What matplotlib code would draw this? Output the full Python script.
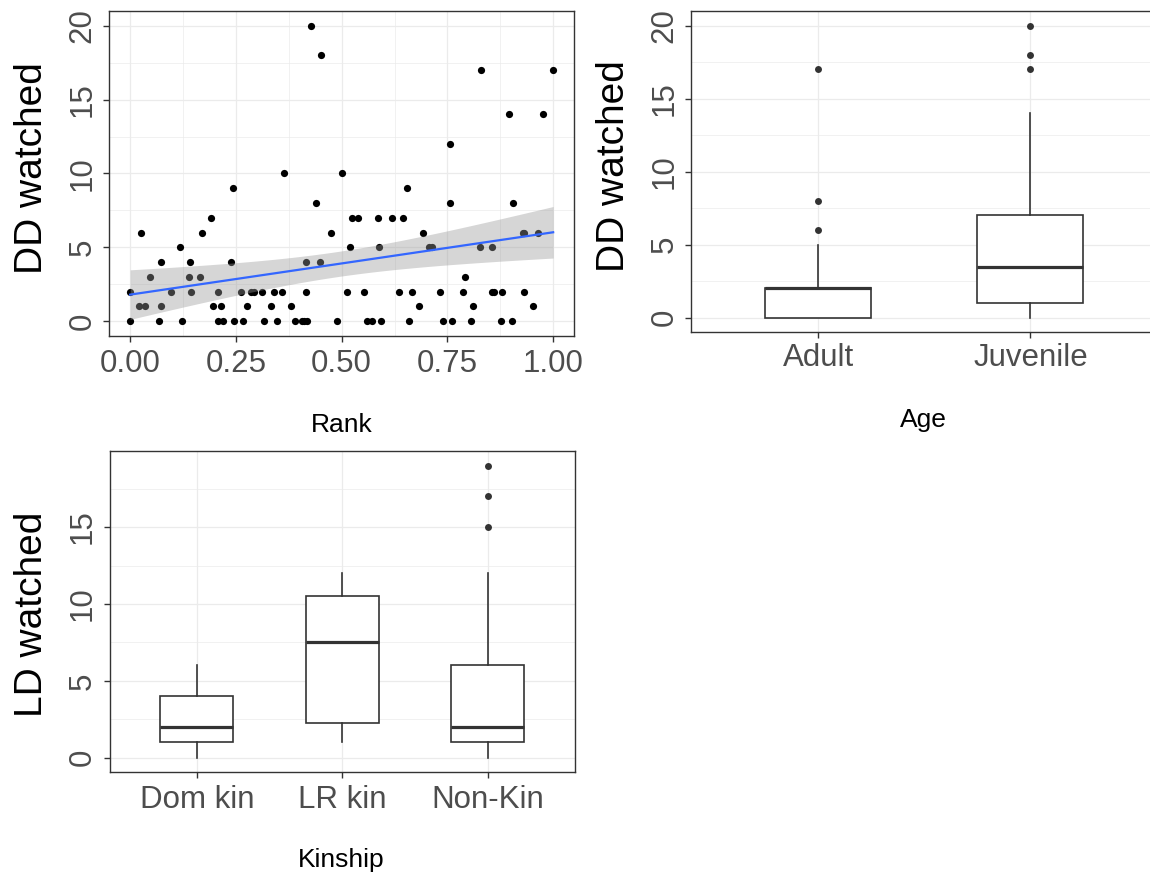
import numpy as np
import matplotlib
matplotlib.use('Agg')
import matplotlib.pyplot as plt

plt.rcParams['font.family'] = ['Liberation Sans', 'DejaVu Sans']

# scatter data: rank vs DD watched
rank = [0.427, 0.452, 0.364, 0.500, 0.830, 1.000, 0.896, 0.977, 0.757,
        0.000, 0.000, 0.025, 0.021, 0.035, 0.047, 0.072, 0.069, 0.072, 0.097,
        0.118, 0.122, 0.138, 0.141, 0.144, 0.166, 0.170, 0.192, 0.195, 0.207,
        0.207, 0.214, 0.220, 0.242, 0.239, 0.245, 0.261, 0.267, 0.276, 0.285,
        0.292, 0.311, 0.317, 0.333, 0.341, 0.346, 0.359, 0.380, 0.389, 0.406,
        0.411, 0.417, 0.415, 0.415, 0.440, 0.448, 0.474, 0.488,
        0.512, 0.519, 0.524, 0.538, 0.552, 0.559, 0.572, 0.585, 0.588, 0.593,
        0.619, 0.635, 0.644, 0.654, 0.660, 0.666, 0.682, 0.692, 0.707, 0.713,
        0.732, 0.739, 0.757, 0.761, 0.786, 0.791, 0.805, 0.811, 0.827, 0.856,
        0.856, 0.861, 0.877, 0.880, 0.902, 0.904, 0.928, 0.931, 0.930, 0.952,
        0.965]
dd_watched = [20, 18, 10, 10, 17, 17, 14, 14, 12,
              2, 0, 6, 1, 1, 3, 4, 0, 1, 2,
              5, 0, 3, 4, 2, 3, 6, 7, 1, 2,
              0, 1, 0, 9, 4, 0, 2, 0, 1, 2,
              2, 2, 0, 1, 2, 0, 2, 1, 0, 0,
              0, 0, 4, 2, 8, 4, 6, 0,
              2, 5, 7, 7, 2, 0, 0, 7, 5, 0,
              7, 2, 7, 9, 0, 2, 1, 6, 5, 5,
              2, 0, 8, 0, 2, 3, 0, 1, 5, 5,
              2, 2, 0, 2, 0, 8, 6, 6, 2, 1,
              6]

# box plot summaries: age
age_groups = ['Adult', 'Juvenile']
age_q1 = [0, 1]
age_med = [2, 3.5]
age_q3 = [2, 7]
age_lo = [0, 0]
age_hi = [5, 14]
age_out = [[6, 8, 17], [17, 18, 20]]

# box plot summaries: kinship
kin_groups = ['Dom kin', 'LR kin', 'Non-Kin']
kin_q1 = [1, 2.25, 1]
kin_med = [2, 7.5, 2]
kin_q3 = [4, 10.5, 6]
kin_lo = [0, 1, 0]
kin_hi = [6, 12, 12]
kin_out = [[], [], [15, 17, 19]]

W, H = 1150, 872
fig = plt.figure(figsize=(W / 100, H / 100), dpi=100)

DARK = '#333333'
TICKCOL = '#4D4D4D'


def px_axes(left, top, right, bottom):
    return fig.add_axes([left / W, 1 - bottom / H, (right - left) / W, (bottom - top) / H])


def style(ax, yticks, yminor, xpad=4.5):
    ax.set_yticks(yticks)
    ax.set_yticks(yminor, minor=True)
    ax.grid(which='major', color='#EBEBEB', lw=0.9)
    ax.grid(which='minor', color='#EBEBEB', lw=0.5)
    ax.set_axisbelow(True)
    for s in ax.spines.values():
        s.set_color(DARK)
        s.set_linewidth(1.0)
    ax.tick_params(which='major', color=DARK, width=1.0, length=4.5,
                   labelsize=22.5, labelcolor=TICKCOL)
    ax.tick_params(axis='x', pad=xpad)
    ax.tick_params(axis='y', pad=9)
    ax.tick_params(which='minor', length=0)
    for lab in ax.get_yticklabels():
        lab.set_rotation(90)
        lab.set_rotation_mode('anchor')
        lab.set_ha('center')
        lab.set_va('baseline')


def boxes(ax, groups, q1, med, q3, lo, hi, out):
    stats = []
    for i in range(len(groups)):
        stats.append({'q1': q1[i], 'med': med[i], 'q3': q3[i],
                      'whislo': lo[i], 'whishi': hi[i], 'fliers': out[i]})
    ax.bxp(stats, positions=range(1, len(groups) + 1), widths=0.5,
           showcaps=False, patch_artist=True,
           boxprops=dict(facecolor='white', edgecolor=DARK, lw=1.2),
           medianprops=dict(color=DARK, lw=2.3, solid_capstyle='butt'),
           whiskerprops=dict(color=DARK, lw=1.2),
           flierprops=dict(marker='o', markerfacecolor=DARK, markeredgecolor='none',
                           markersize=5.0))
    ax.set_xticks(range(1, len(groups) + 1))
    ax.set_xticklabels(groups)
    ax.set_xlim(0.4, len(groups) + 0.6)


# --- panel 1: scatter with lm fit
ax1 = px_axes(109, 11, 574.3, 336)
x = np.array(rank)
y = np.array(dd_watched)
ax1.scatter(x, y, s=27, c='black', lw=0, zorder=2)
b, a = np.polyfit(x, y, 1)
n = len(x)
resid = y - (a + b * x)
s_err = np.sqrt(np.sum(resid ** 2) / (n - 2))
xs = np.linspace(x.min(), x.max(), 80)
se = s_err * np.sqrt(1 / n + (xs - x.mean()) ** 2 / np.sum((x - x.mean()) ** 2))
t_crit = 1.985
fit = a + b * xs
ax1.fill_between(xs, fit - t_crit * se, fit + t_crit * se, color='#999999', alpha=0.4,
                 lw=0, zorder=3)
ax1.plot(xs, fit, color='#3366FF', lw=1.6, zorder=4)
ax1.set_xlim(-0.05, 1.05)
ax1.set_ylim(-1, 21)
ax1.set_xticks([0, 0.25, 0.5, 0.75, 1.0])
ax1.set_xticklabels(['0.00', '0.25', '0.50', '0.75', '1.00'])
ax1.set_xticks([0.125, 0.375, 0.625, 0.875], minor=True)
style(ax1, [0, 5, 10, 15, 20], [2.5, 7.5, 12.5, 17.5])

# --- panel 2: age boxplot
ax2 = px_axes(691, 11, 1157.7, 332.3)
boxes(ax2, age_groups, age_q1, age_med, age_q3, age_lo, age_hi, age_out)
ax2.set_ylim(-1, 21)
style(ax2, [0, 5, 10, 15, 20], [2.5, 7.5, 12.5, 17.5], xpad=3.5)

# --- panel 3: kinship boxplot
ax3 = px_axes(109.5, 451, 575, 772.3)
boxes(ax3, kin_groups, kin_q1, kin_med, kin_q3, kin_lo, kin_hi, kin_out)
ax3.set_ylim(-0.95, 19.95)
style(ax3, [0, 5, 10, 15], [2.5, 7.5, 12.5, 17.5])

# axis titles
ylab = dict(rotation=90, rotation_mode='anchor', ha='center', va='baseline',
            fontsize=28, color='black')
fig.text(42 / W, 1 - 168 / H, 'DD watched', **ylab)
fig.text(624 / W, 1 - 166 / H, 'DD watched', **ylab)
fig.text(42 / W, 1 - 614 / H, 'LD watched', **ylab)

xlab = dict(ha='center', va='baseline', fontsize=19, color='black')
fig.text(341.7 / W, 1 - 432 / H, 'Rank', **xlab)
fig.text(923 / W, 1 - 426.5 / H, 'Age', **xlab)
fig.text(341 / W, 1 - 866.5 / H, 'Kinship', **xlab)

fig.savefig('out.png', dpi=100)
